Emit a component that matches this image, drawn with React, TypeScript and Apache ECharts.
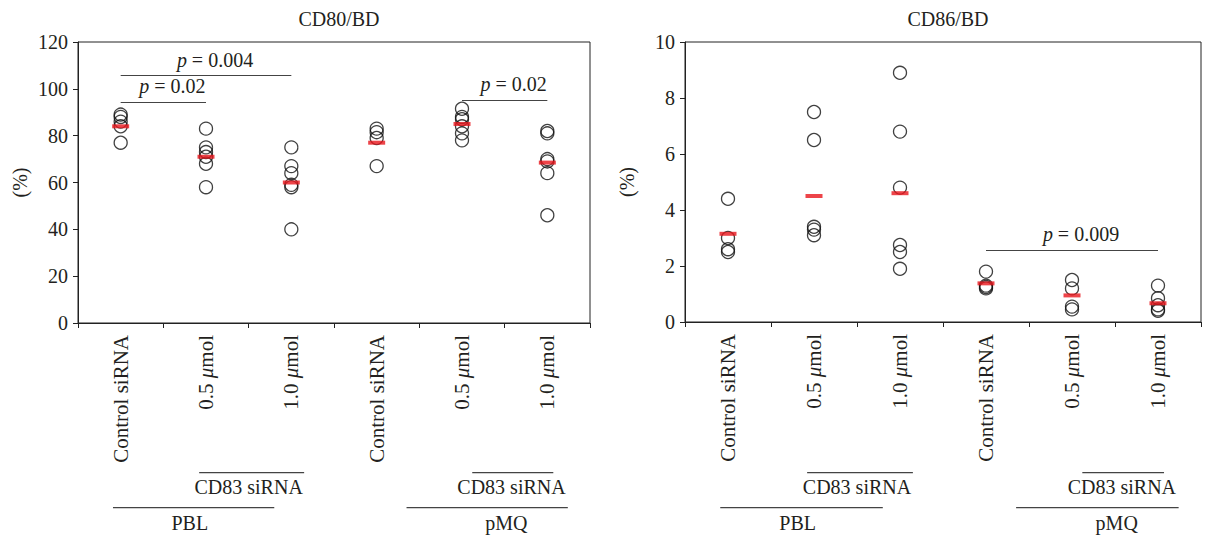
import React, { useEffect, useRef } from "react";
import * as echarts from "echarts";

const FONT = '"Liberation Serif", "Times New Roman", serif';
const TEXT = "#231f20";

const CATEGORIES = ["Control siRNA", "0.5 μmol", "1.0 μmol", "Control siRNA", "0.5 μmol", "1.0 μmol"];
const TITLES = ["CD80/BD", "CD86/BD"];
const Y_NAME = "(%)";

// CD80/BD individual values per group
const CD80_CTRL_PBL = [89, 88, 86, 84, 77];
const CD80_05_PBL = [83, 75, 73, 71, 68, 58];
const CD80_10_PBL = [75, 67, 64, 59, 58, 40];
const CD80_CTRL_PMQ = [83, 81.5, 79, 67];
const CD80_05_PMQ = [91.5, 88, 87, 84, 81, 78];
const CD80_10_PMQ = [82, 81, 70, 69, 64, 46];
const CD80_MEANS = [84, 71, 60, 77, 85, 68.5];

// CD86/BD individual values per group
const CD86_CTRL_PBL = [4.4, 3.0, 2.6, 2.5];
const CD86_05_PBL = [7.5, 6.5, 3.4, 3.3, 3.1];
const CD86_10_PBL = [8.9, 6.8, 4.8, 2.75, 2.5, 1.9];
const CD86_CTRL_PMQ = [1.8, 1.3, 1.25, 1.2];
const CD86_05_PMQ = [1.5, 1.2, 0.55, 0.45];
const CD86_10_PMQ = [1.3, 0.85, 0.6, 0.45, 0.4];
const CD86_MEANS = [3.15, 4.5, 4.6, 1.38, 0.95, 0.67];

// y axis ranges
const Y_RANGES = [
  { min: 0, max: 120, interval: 20 },
  { min: 0, max: 10, interval: 2 },
];

// significance brackets: [from category, to category, y value, p]
const CD80_P = [
  { from: 0, to: 2, y: 105.6, p: "0.004" },
  { from: 0, to: 1, y: 94.2, p: "0.02" },
  { from: 4, to: 5, y: 95.2, p: "0.02" },
];
const CD86_P = [{ from: 3, to: 5, y: 2.57, p: "0.009" }];

// group annotations below the axis (in category units)
const GROUPS = [
  { text: "CD83 siRNA", from: 0.92, to: 2.15, at: 1.5, row: 0 },
  { text: "PBL", from: -0.09, to: 1.8, at: 0.81, row: 1 },
  { text: "CD83 siRNA", from: 4.12, to: 5.07, at: 4.58, row: 0 },
  { text: "pMQ", from: 3.35, to: 5.24, at: 4.52, row: 1 },
];

const toPoints = (groups: number[][]) =>
  groups.flatMap((vals, i) => vals.map((v) => [i, v]));

const richLabel = {
  i: { fontStyle: "italic", fontSize: 20, fontFamily: FONT, color: TEXT },
  n: { fontSize: 20, fontFamily: FONT, color: TEXT },
};
const richTick = {
  i: { fontStyle: "italic", fontSize: 21, fontFamily: FONT, color: TEXT },
  n: { fontSize: 21, fontFamily: FONT, color: TEXT },
};

export default function App() {
  const ref = useRef<HTMLDivElement>(null);
  useEffect(() => {
    if (!ref.current) return;
    const chart = echarts.init(ref.current, null, { renderer: "svg" });

    const cd80 = [CD80_CTRL_PBL, CD80_05_PBL, CD80_10_PBL, CD80_CTRL_PMQ, CD80_05_PMQ, CD80_10_PMQ];
    const cd86 = [CD86_CTRL_PBL, CD86_05_PBL, CD86_10_PBL, CD86_CTRL_PMQ, CD86_05_PMQ, CD86_10_PMQ];
    const means = [CD80_MEANS, CD86_MEANS];
    const pvals = [CD80_P, CD86_P];

    const grids = [
      { left: 78, top: 42, width: 512, height: 281 },
      { left: 685, top: 42, width: 516, height: 280 },
    ];

    const xAxes = [0, 1].map((g) => ({
      type: "category",
      gridIndex: g,
      data: CATEGORIES,
      boundaryGap: true,
      axisLine: { lineStyle: { color: "#222", width: 1 } },
      axisTick: { show: true, interval: 0, length: 5, alignWithLabel: false, lineStyle: { color: "#222" } },
      axisLabel: {
        interval: 0,
        rotate: 90,
        margin: 12,
        fontSize: 21,
        fontFamily: FONT,
        color: TEXT,
        formatter: (v: string) =>
          v.includes("μ") ? `{n|${v.split("μ")[0]}}{i|μ}{n|${v.split("μ")[1]}}` : `{n|${v}}`,
        rich: richTick,
      },
      splitLine: { show: false },
    }));

    const yAxes = [0, 1].map((g) => ({
      type: "value",
      gridIndex: g,
      ...Y_RANGES[g],
      name: Y_NAME,
      nameLocation: "middle",
      nameRotate: 90,
      nameGap: 48,
      nameTextStyle: { fontSize: 20, fontFamily: FONT, color: TEXT },
      axisLine: { show: true, lineStyle: { color: "#222", width: 1 } },
      axisTick: { show: true, length: 5, lineStyle: { color: "#222" } },
      axisLabel: { fontSize: 20, fontFamily: FONT, color: TEXT, margin: 10 },
      splitLine: { show: false },
    }));

    const series: any[] = [];
    [cd80, cd86].forEach((groups, g) => {
      series.push({
        type: "scatter",
        xAxisIndex: g,
        yAxisIndex: g,
        symbol: "circle",
        symbolSize: 13,
        itemStyle: { color: "rgba(0,0,0,0)", borderColor: "#111", borderWidth: 1.3 },
        data: toPoints(groups),
        z: 2,
      });
      series.push({
        type: "scatter",
        xAxisIndex: g,
        yAxisIndex: g,
        symbol: "rect",
        symbolSize: [17, 4],
        itemStyle: { color: "#e8151c" },
        data: means[g].map((v, i) => [i, v]),
        z: 3,
        markLine: {
          silent: true,
          symbol: "none",
          lineStyle: { color: "#444", width: 1.2, type: "solid" },
          label: {
            show: true,
            position: "middle",
            distance: 6,
            padding: [0, 0, 0, 18],
            formatter: (p: any) => `{i|p}{n| = ${p.name}}`,
            rich: richLabel,
          },
          data: pvals[g].map((b) => [
            { name: b.p, coord: [b.from, b.y] },
            { coord: [b.to, b.y] },
          ]),
        },
      });
    });

    chart.setOption({
      animation: false,
      textStyle: { fontFamily: FONT },
      title: [
        { text: TITLES[0], left: 334, top: 4, textAlign: "center", textStyle: { fontSize: 20, fontWeight: "normal", fontFamily: FONT, color: TEXT } },
        { text: TITLES[1], left: 943, top: 4, textAlign: "center", textStyle: { fontSize: 20, fontWeight: "normal", fontFamily: FONT, color: TEXT } },
      ],
      grid: grids.map((g) => ({ ...g, show: true, borderColor: "#222", borderWidth: 1, backgroundColor: "transparent" })),
      xAxis: xAxes,
      yAxis: yAxes,
      series,
    });

    // group annotations positioned from the category axes
    const rowLineY = [472.7, 507.7];
    const rowTextY = [486.7, 523];
    const graphics: any[] = [];
    [0, 1].forEach((g) => {
      const p0 = chart.convertToPixel({ xAxisIndex: g }, 0) as number;
      const p1 = chart.convertToPixel({ xAxisIndex: g }, 1) as number;
      const px = (u: number) => p0 + (p1 - p0) * u;
      GROUPS.forEach((gr) => {
        graphics.push({
          type: "line",
          shape: { x1: px(gr.from), y1: rowLineY[gr.row], x2: px(gr.to), y2: rowLineY[gr.row] },
          style: { stroke: "#444", lineWidth: 1.2 },
        });
        graphics.push({
          type: "text",
          x: px(gr.at),
          y: rowTextY[gr.row],
          style: { text: gr.text, font: `20px ${FONT}`, fill: TEXT, align: "center", verticalAlign: "middle" },
        });
      });
    });
    chart.setOption({ graphic: graphics });

    return () => chart.dispose();
  }, []);

  return (
    <div
      ref={ref}
      style={{ position: "fixed", left: 0, top: 0, width: 1206, height: 544, background: "#fff" }}
    />
  );
}
